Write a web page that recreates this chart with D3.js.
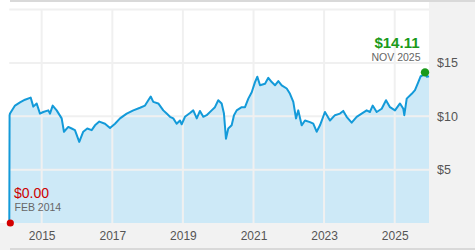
<!DOCTYPE html>
<html><head><meta charset="utf-8">
<script src="https://cdn.jsdelivr.net/npm/d3@7"></script>
<style>html,body{margin:0;padding:0;background:#fff;}svg{display:block;font-family:"Open Sans","Segoe UI",sans-serif;}</style>
</head><body>
<svg id="c" width="475" height="250"></svg>
<script>
// decimal years and prices
const years = [2014.082,2014.09,2014.102,2014.244,2014.385,2014.527,2014.688,2014.762,2014.858,2014.952,2015.045,2015.187,2015.235,2015.312,2015.425,2015.567,2015.632,2015.754,2015.850,2015.943,2016.065,2016.178,2016.292,2016.416,2016.510,2016.632,2016.793,2016.935,2017.076,2017.218,2017.408,2017.595,2017.785,2017.926,2018.020,2018.088,2018.161,2018.303,2018.445,2018.541,2018.635,2018.728,2018.824,2018.918,2018.966,2019.059,2019.201,2019.295,2019.394,2019.484,2019.578,2019.674,2019.816,2019.909,2020.003,2020.099,2020.164,2020.221,2020.286,2020.382,2020.448,2020.524,2020.666,2020.759,2020.853,2020.949,2021.042,2021.108,2021.184,2021.326,2021.419,2021.516,2021.609,2021.703,2021.799,2021.941,2022.034,2022.128,2022.204,2022.269,2022.365,2022.459,2022.601,2022.694,2022.790,2022.884,2023.025,2023.167,2023.309,2023.450,2023.544,2023.640,2023.782,2023.924,2024.065,2024.207,2024.300,2024.377,2024.490,2024.632,2024.754,2024.867,2025.008,2025.150,2025.244,2025.272,2025.340,2025.482,2025.575,2025.669,2025.737,2025.811,2025.859,2025.907,2025.972];
const prices = [0,10.1,10.25,11.0,11.3,11.55,11.75,10.9,11.2,10.25,10.4,10.55,10.25,11.0,10.55,9.8,8.55,9.0,8.85,8.7,7.6,8.55,8.85,8.7,9.15,9.5,9.3,8.9,9.3,9.8,10.25,10.55,10.8,11.0,11.5,11.85,11.35,11.2,10.55,10.25,9.95,9.8,9.3,9.6,9.25,9.95,10.3,10.55,9.8,10.5,9.95,10.1,10.55,10.85,11.5,11.2,10.25,7.9,8.85,9.15,10.1,10.55,10.85,10.85,11.65,12.25,13.2,13.7,12.9,13.05,13.6,13.2,12.9,13.3,12.9,12.6,12.1,11.35,9.8,10.55,9.15,9.6,9.45,9.3,8.55,9.15,10.4,9.6,10.1,10.25,10.5,9.95,9.4,9.95,10.25,10.55,10.4,11.0,10.4,10.7,11.5,10.85,10.55,11.2,10.7,10.1,11.65,12.1,12.45,13.2,13.75,13.85,14.11,13.7,13.75];
const xTickYears = [2015,2017,2019,2021,2023,2025];
const yTicks = [5,10,15,20];
const yTickLabels = ["$5","$10","$15",""];
const startPoint = {year:2014.082, value:0, label:"$0.00", date:"FEB 2014"};
const endPoint = {year:2025.859, value:14.11, label:"$14.11", date:"NOV 2025"};

function toDate(y){const yr=Math.floor(y);const s=new Date(yr,0,1),e=new Date(yr+1,0,1);return new Date(+s+(y-yr)*(e-s));}
const data = years.map((y,i)=>({d:toDate(y),v:prices[i]}));

const svg = d3.select("#c");
const L=9.3,R=429,T=9.5,B=223;
const x = d3.scaleTime().domain([toDate(2014.082),toDate(2025.972)]).range([L,R]);
const y = d3.scaleLinear().domain([0,20]).range([B,T]);

// backgrounds
svg.append("rect").attr("x",0).attr("y",0).attr("width",475).attr("height",250).attr("fill","#fff");
svg.append("rect").attr("x",R).attr("y",0).attr("width",475-R).attr("height",250).attr("fill","#f2f2f2");
svg.append("rect").attr("x",0).attr("y",B).attr("width",475).attr("height",250-B).attr("fill","#f2f2f2");
svg.append("rect").attr("x",10).attr("y",0).attr("width",465).attr("height",2).attr("fill","#d9d9d9");
svg.append("rect").attr("x",10).attr("y",248).attr("width",465).attr("height",2).attr("fill","#d9d9d9");

// area
svg.append("path").datum(data).attr("fill","#cde9f7")
  .attr("d",d3.area().x(d=>x(d.d)).y0(B).y1(d=>y(d.v)));

// grid
svg.append("g").selectAll("line").data(yTicks).join("line")
  .attr("x1",L).attr("x2",R).attr("y1",d=>y(d)).attr("y2",d=>y(d))
  .attr("stroke","#f0f0f0").attr("stroke-width",2);
svg.append("g").selectAll("line").data(xTickYears).join("line")
  .attr("x1",d=>x(toDate(d))).attr("x2",d=>x(toDate(d))).attr("y1",T).attr("y2",B)
  .attr("stroke","#f0f0f0").attr("stroke-width",2);

// line
svg.append("path").datum(data).attr("fill","none").attr("stroke","#139ad9").attr("stroke-width",2)
  .attr("stroke-linejoin","round")
  .attr("d",d3.line().x(d=>x(d.d)).y(d=>y(d.v)));

// axes labels
const xAxis = d3.axisBottom(x).tickValues(xTickYears.map(toDate)).tickFormat(d3.timeFormat("%Y")).tickSize(0).tickPadding(8);
const gx = svg.append("g").attr("transform",`translate(0,${B})`).call(xAxis);
gx.select(".domain").remove();
gx.selectAll("text").attr("fill","#555").attr("font-size",12).attr("font-family","inherit");

const yAxis = d3.axisRight(y).tickValues(yTicks.slice(0,3)).tickFormat((d,i)=>yTickLabels[i]).tickSize(0).tickPadding(8);
const gy = svg.append("g").attr("transform",`translate(${R},0)`).call(yAxis);
gy.select(".domain").remove();
gy.selectAll("text").attr("fill","#555").attr("font-size",12.5).attr("font-family","inherit");

// end markers
svg.append("circle").attr("cx",x(toDate(startPoint.year))+1).attr("cy",y(startPoint.value)).attr("r",3.6).attr("fill","#d40000");
svg.append("circle").attr("cx",x(toDate(endPoint.year))).attr("cy",y(endPoint.value)).attr("r",4.2).attr("fill","#1a9a1a");

const AF = '"Liberation Sans",Arial,sans-serif';
svg.append("text").attr("x",14).attr("y",197.5).attr("fill","#cc0000").attr("font-family",AF).attr("font-size",14).text(startPoint.label);
svg.append("text").attr("x",14.5).attr("y",211).attr("fill","#666").attr("font-family",AF).attr("font-size",10.5).text(startPoint.date);

svg.append("text").attr("x",419.5).attr("y",47.5).attr("text-anchor","end").attr("fill","#1a9a1a").attr("font-family",AF).attr("font-size",15).attr("font-weight","bold").text(endPoint.label);
svg.append("text").attr("x",420.5).attr("y",61).attr("text-anchor","end").attr("fill","#666").attr("font-family",AF).attr("font-size",10.5).text(endPoint.date);
</script>
</body></html>
